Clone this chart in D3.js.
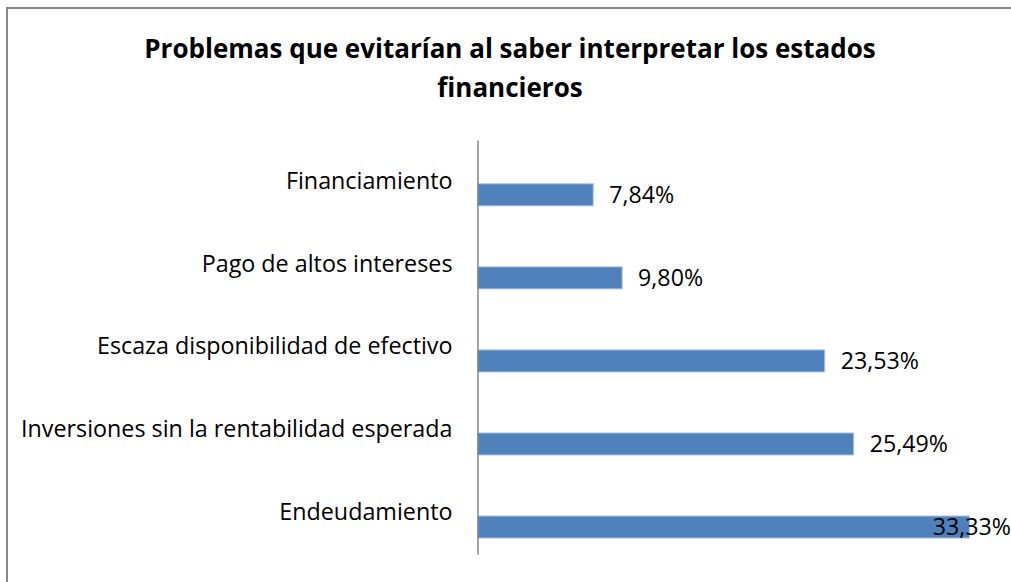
<!DOCTYPE html>
<html lang="es">
<head>
  <meta charset="UTF-8">
  <title>Problemas que evitarían al saber interpretar los estados financieros</title>
  <script src="https://d3js.org/d3.v7.min.js"></script>
  <style>
    body { margin: 0; background: #fff; }
    text { font-family: "Open Sans", "Noto Sans", sans-serif; fill: #000; }
    .title { font-weight: bold; font-size: 26px; }
    .cat text { font-size: 23.3px; }
    .value { font-size: 23.2px; }
  </style>
</head>
<body>
  <svg width="1011" height="582"></svg>

  <script>
    // Categories top to bottom, values in percent
    const categories = [
      "Financiamiento",
      "Pago de altos intereses",
      "Escaza disponibilidad de efectivo",
      "Inversiones sin la rentabilidad esperada",
      "Endeudamiento"
    ];
    const values = [7.84, 9.80, 23.53, 25.49, 33.33];
    const titleLines = ["Problemas que evitarían al saber interpretar los estados", "financieros"];

    const data = categories.map((c, i) => ({ cat: c, value: values[i] }));
    const fmt = v => d3.format(".2f")(v).replace(".", ",") + "%";

    const svg = d3.select("svg");

    // chart area border (only left/top visible in the crop)
    svg.append("rect")
      .attr("x", 7).attr("y", 8)
      .attr("width", 1030).attr("height", 600)
      .attr("fill", "none")
      .attr("stroke", "#868686")
      .attr("stroke-width", 2);

    // title
    svg.append("text")
      .attr("class", "title")
      .attr("text-anchor", "middle")
      .selectAll("tspan")
      .data(titleLines)
      .enter().append("tspan")
      .attr("x", 510)
      .attr("y", (d, i) => 58 + i * 39)
      .text(d => d);

    const x = d3.scaleLinear().domain([0, 35]).range([477.5, 994]);

    // category axis: labels sit at band centres
    const y = d3.scaleBand().domain(categories).range([140, 554]);

    // bars are offset inside each band (like an empty second series)
    const yBar = d3.scaleBand().domain(categories).range([140, 554])
      .paddingInner(0.735).paddingOuter(0.36).align(0.733);

    svg.selectAll(".bar")
      .data(data)
      .enter().append("rect")
      .attr("class", "bar")
      .attr("x", x(0))
      .attr("y", d => yBar(d.cat))
      .attr("width", d => x(d.value) - x(0))
      .attr("height", yBar.bandwidth())
      .attr("fill", "#4f81bd")
      .attr("stroke", "#a9c1df")
      .attr("stroke-width", 1);

    const axis = svg.append("g")
      .attr("class", "cat")
      .attr("transform", `translate(${x(0)},0)`)
      .call(d3.axisLeft(y).tickSize(0).tickSizeOuter(0).tickPadding(25));
    axis.select(".domain").attr("stroke", "#868686").attr("stroke-width", 1.5);
    axis.selectAll("text").attr("fill", "#000").attr("font-family", null).attr("font-size", null);

    // value labels, pushed back inside the chart if they would run off
    const labels = svg.selectAll(".value")
      .data(data)
      .enter().append("text")
      .attr("class", "value")
      .attr("y", d => yBar(d.cat) + yBar.bandwidth() / 2)
      .attr("dy", "0.36em")
      .text(d => fmt(d.value));

    labels.attr("x", function(d) {
      const w = this.getComputedTextLength();
      return Math.min(x(d.value) + 16, 1011 - w);
    });
  </script>
</body>
</html>
